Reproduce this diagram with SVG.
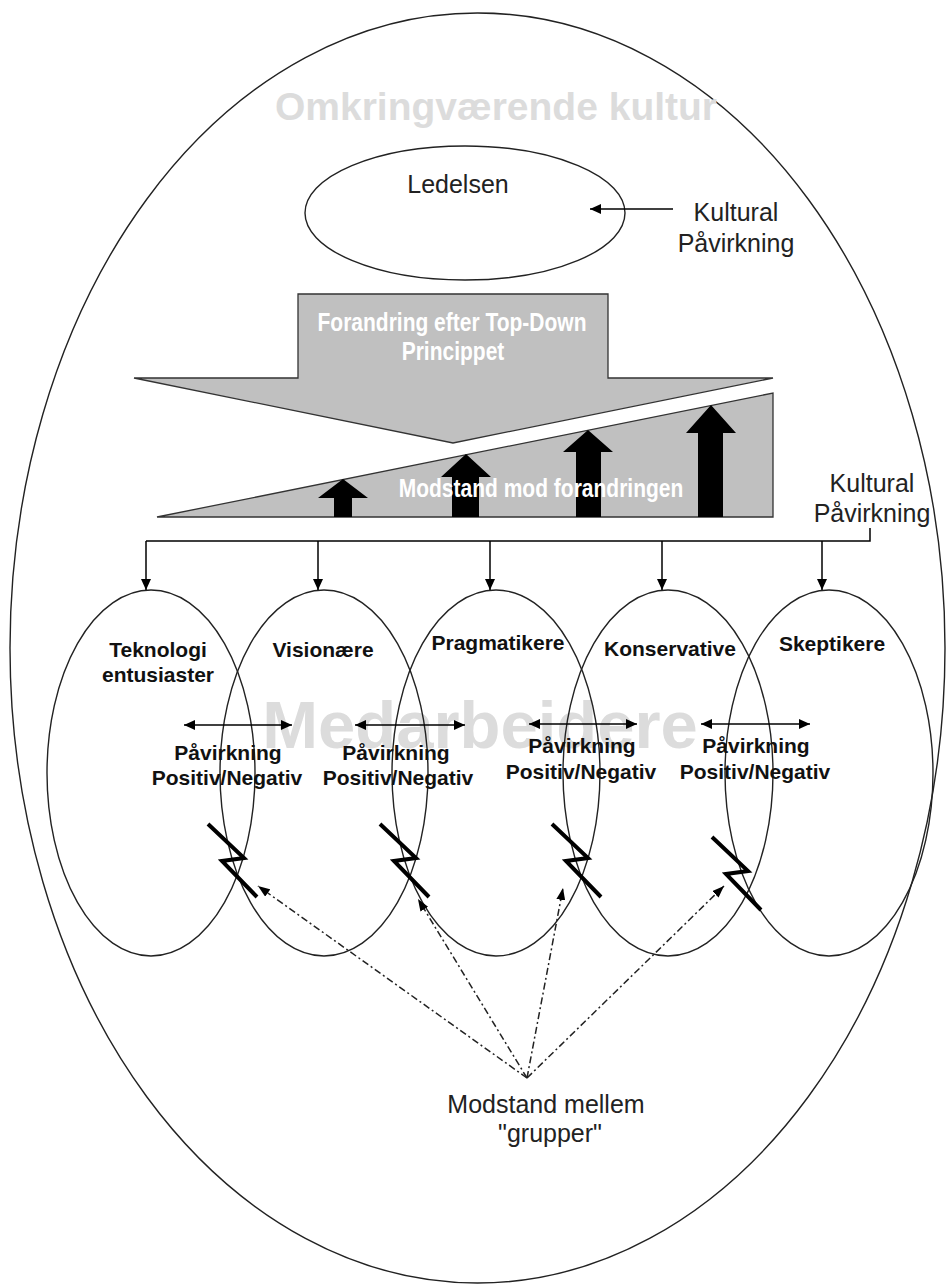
<svg xmlns="http://www.w3.org/2000/svg" width="948" height="1286" viewBox="0 0 948 1286">
<style>
.wm{font-family:"Liberation Sans",Arial,sans-serif;font-weight:bold;fill:#dcdcdc;text-anchor:middle}
.lbl{font-family:"Liberation Sans",Arial,sans-serif;font-weight:bold;font-size:21px;fill:#111;text-anchor:middle}
.reg{font-family:"Liberation Sans",Arial,sans-serif;font-size:25px;fill:#222;text-anchor:middle}
.nar{font-family:"Liberation Sans",Arial,sans-serif;font-weight:bold;font-size:25px;fill:#fff;text-anchor:middle}
.ell{fill:none;stroke:#222;stroke-width:1.4}
.ln{fill:none;stroke:#000;stroke-width:1.5}
.dd{fill:none;stroke:#222;stroke-width:1.5;stroke-dasharray:7 3 2 3}
.bolt{fill:none;stroke:#000;stroke-width:4;stroke-linejoin:miter}
.gray{fill:#c0c0c0;stroke:#333;stroke-width:1.3}
</style>
<defs>
<marker id="ah" markerUnits="userSpaceOnUse" markerWidth="11" markerHeight="10" refX="11" refY="5" orient="auto-start-reverse">
<path d="M0,0 L11,5 L0,10 Z" fill="#000"/>
</marker>
<marker id="ahs" markerUnits="userSpaceOnUse" markerWidth="12" markerHeight="9" refX="12" refY="4.5" orient="auto">
<path d="M0,0 L12,4.5 L0,9 Z" fill="#000"/>
</marker>
</defs>
<rect width="948" height="1286" fill="#fff"/>

<g id="outer">
<ellipse cx="477.5" cy="648" rx="467.5" ry="635" class="ell"/>
<text x="496" y="120" class="wm" font-size="39">Omkringværende kultur</text>
</g>

<text id="watermark-medarbeidere" x="480" y="748" class="wm" font-size="67">Medarbeidere</text>

<g id="ledelsen">
<ellipse cx="465" cy="213" rx="160" ry="67" class="ell"/>
<text x="458" y="193" class="reg">Ledelsen</text>
</g>

<g id="kultural-top">
<text x="736" y="221" class="reg">Kultural</text>
<text x="736" y="252" class="reg">Påvirkning</text>
</g>

<g id="topdown">
<polygon class="gray" points="298,294 608,294 608,378 773,378 453,443 134,378 298,378"/>
<text class="nar" transform="translate(452,331) scale(0.84,1)">Forandring efter Top-Down</text>
<text class="nar" transform="translate(453,360) scale(0.84,1)">Princippet</text>
</g>

<g id="modstand">
<polygon class="gray" points="157,517 773,517 773,393"/>
<polygon fill="#000" points="334,517 334,498 318,498 343,479 368,498 352,498 352,517"/>
<polygon fill="#000" points="452,517 452,477 441,477 466,454 491,477 479,477 479,517"/>
<polygon fill="#000" points="576,517 576,452 563,452 588,430 613,452 601,452 601,517"/>
<polygon fill="#000" points="698,517 698,433 686,433 711,405 736,433 723,433 723,517"/>
<text class="nar" transform="translate(541,497) scale(0.84,1)">Modstand mod forandringen</text>
</g>

<g id="kultural-right">
<text x="872" y="492" class="reg">Kultural</text>
<text x="872" y="522" class="reg">Påvirkning</text>
</g>

<g id="teknologi">
<ellipse cx="151" cy="773" rx="104" ry="183" class="ell"/>
<text x="158" y="657" class="lbl">Teknologi</text>
<text x="158" y="682" class="lbl">entusiaster</text>
</g>
<g id="visionaere">
<ellipse cx="324" cy="773" rx="104" ry="183" class="ell"/>
<text x="323" y="657" class="lbl">Visionære</text>
</g>
<g id="pragmatikere">
<ellipse cx="496" cy="773" rx="104" ry="183" class="ell"/>
<text x="498" y="650" class="lbl">Pragmatikere</text>
</g>
<g id="konservative">
<ellipse cx="668" cy="773" rx="105" ry="183" class="ell"/>
<text x="670" y="656" class="lbl">Konservative</text>
</g>
<g id="skeptikere">
<ellipse cx="829" cy="773" rx="104" ry="183" class="ell"/>
<text x="832" y="651" class="lbl">Skeptikere</text>
</g>

<g id="influence-labels">
<text x="228" y="760" class="lbl">Påvirkning</text>
<text x="227" y="785" class="lbl">Positiv/Negativ</text>
<text x="396" y="760" class="lbl">Påvirkning</text>
<text x="398" y="785" class="lbl">Positiv/Negativ</text>
<text x="582" y="753" class="lbl">Påvirkning</text>
<text x="581" y="779" class="lbl">Positiv/Negativ</text>
<text x="756" y="753" class="lbl">Påvirkning</text>
<text x="755" y="779" class="lbl">Positiv/Negativ</text>
</g>

<g id="bolts">
<polyline class="bolt" points="208,824 244,858 222,861 257,897"/>
<polyline class="bolt" points="380,824 416,858 394,861 429,897"/>
<polyline class="bolt" points="552,824 588,858 566,861 601,897"/>
<polyline class="bolt" points="712,837 748,871 726,874 761,910"/>
</g>

<g id="modstand-grupper">
<text x="546" y="1113" class="reg">Modstand mellem</text>
<text x="550" y="1142" class="reg">"grupper"</text>
</g>

<g id="connectors">
<line class="ln" x1="673" y1="209" x2="590" y2="209" marker-end="url(#ah)"/>
<polyline class="ln" points="870,528 870,541 146,541"/>
<line class="ln" x1="146" y1="541" x2="146" y2="590" marker-end="url(#ah)"/>
<line class="ln" x1="318" y1="541" x2="318" y2="590" marker-end="url(#ah)"/>
<line class="ln" x1="490" y1="541" x2="490" y2="590" marker-end="url(#ah)"/>
<line class="ln" x1="662" y1="541" x2="662" y2="590" marker-end="url(#ah)"/>
<line class="ln" x1="822" y1="541" x2="822" y2="590" marker-end="url(#ah)"/>
<line class="ln" x1="184" y1="725" x2="292" y2="725" marker-start="url(#ah)" marker-end="url(#ah)"/>
<line class="ln" x1="355" y1="725" x2="465" y2="725" marker-start="url(#ah)" marker-end="url(#ah)"/>
<line class="ln" x1="529" y1="724" x2="637" y2="724" marker-start="url(#ah)" marker-end="url(#ah)"/>
<line class="ln" x1="701" y1="724" x2="810" y2="724" marker-start="url(#ah)" marker-end="url(#ah)"/>
<line class="dd" x1="527" y1="1078" x2="258" y2="886" marker-end="url(#ahs)"/>
<line class="dd" x1="527" y1="1078" x2="418" y2="899" marker-end="url(#ahs)"/>
<line class="dd" x1="527" y1="1078" x2="563" y2="888" marker-end="url(#ahs)"/>
<line class="dd" x1="527" y1="1078" x2="724" y2="886" marker-end="url(#ahs)"/>
</g>
</svg>
